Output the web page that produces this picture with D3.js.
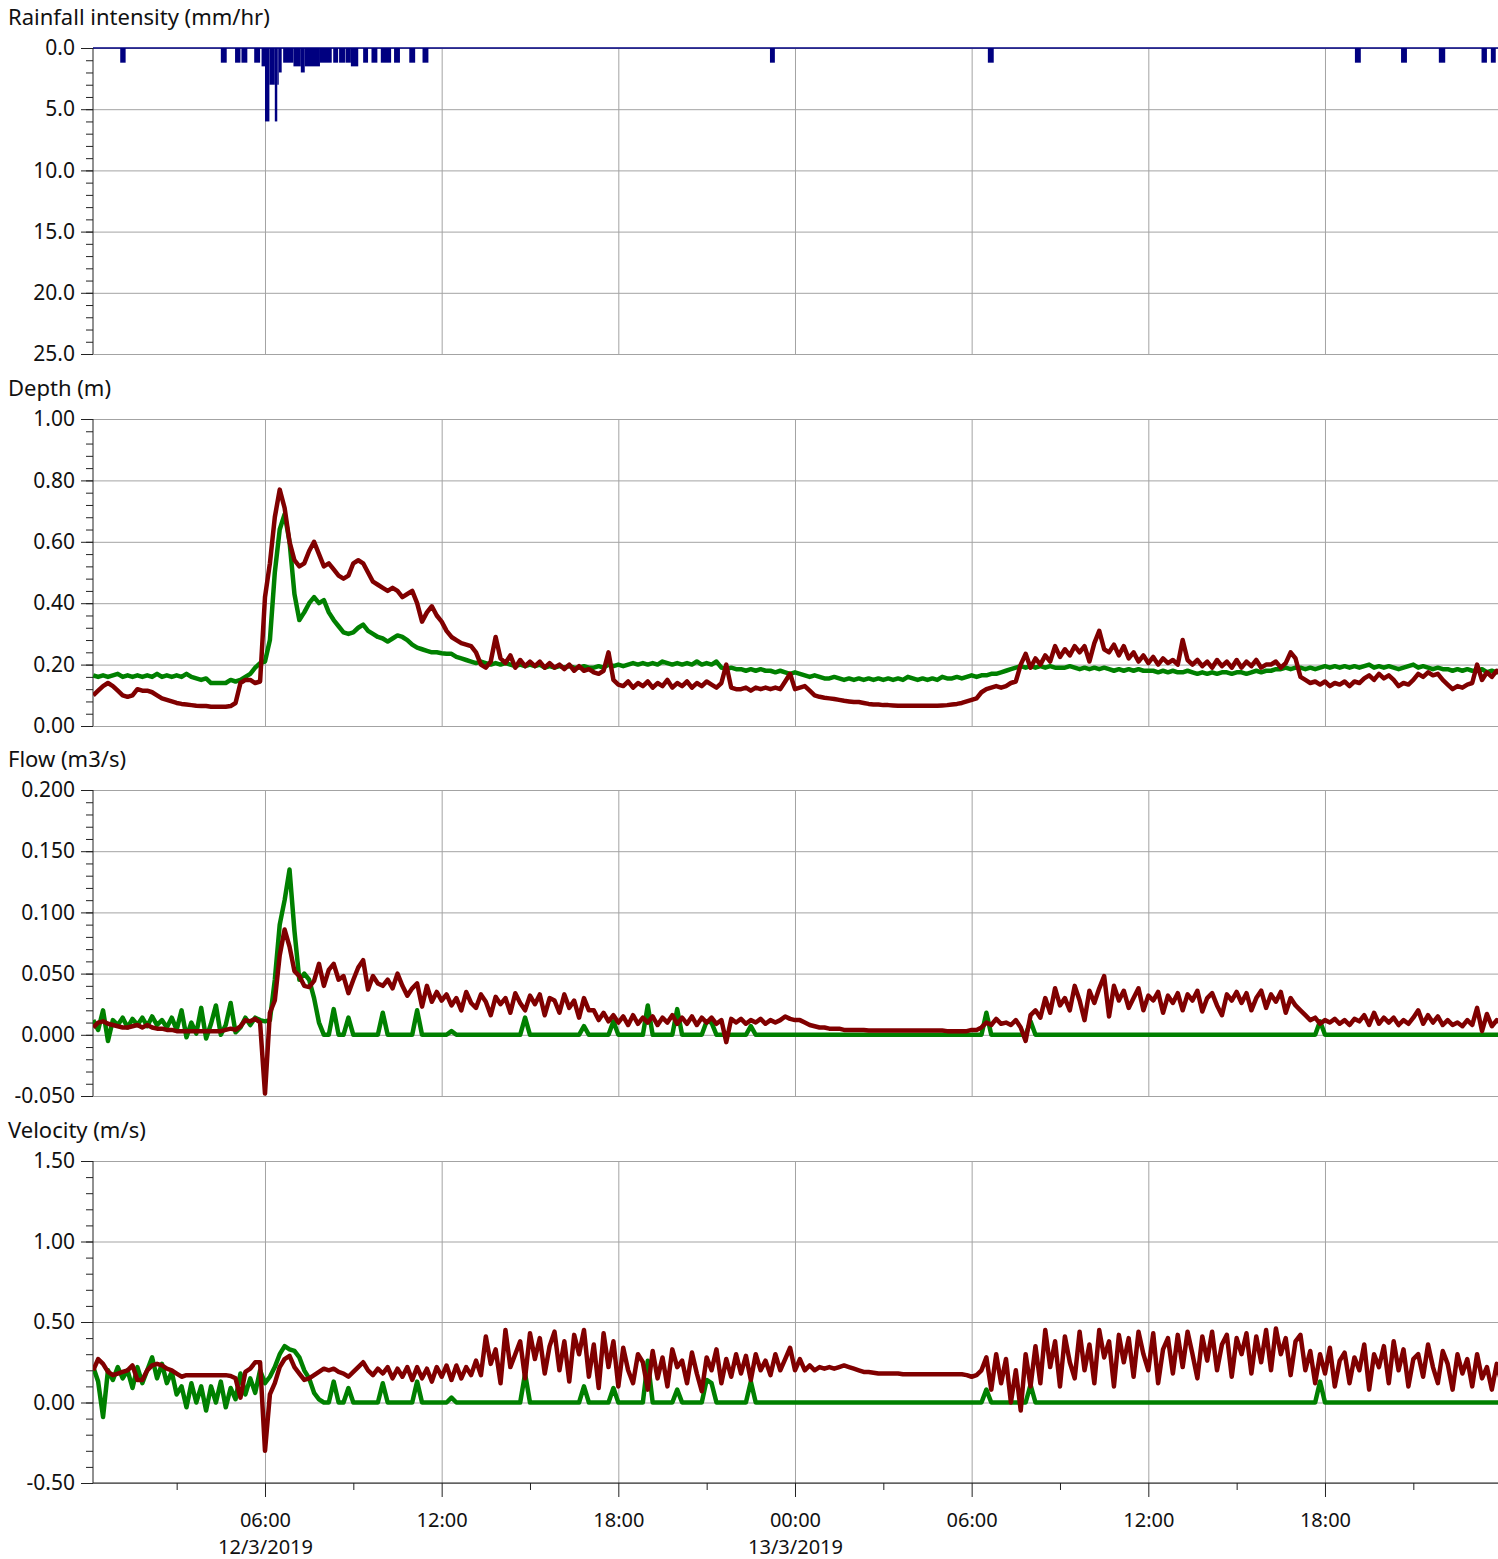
<!DOCTYPE html>
<html>
<head>
<meta charset="utf-8">
<script src="https://cdn.jsdelivr.net/npm/d3@7"></script>
<style>
  body { margin: 0; background: #fff; }
  svg text { font-family: "Noto Sans", "Open Sans", sans-serif; fill: #111; }
</style>
</head>
<body>
<div id="chart"></div>
<script>
/* DATA */
// rainfall bars: start, end, intensity (mm/hr)
const rainStart = ["2019-03-12 01:05","2019-03-12 04:30","2019-03-12 04:59","2019-03-12 05:12","2019-03-12 05:38",
  "2019-03-12 05:53","2019-03-12 06:00","2019-03-12 06:09","2019-03-12 06:20","2019-03-12 06:25","2019-03-12 06:28",
  "2019-03-12 06:37","2019-03-12 06:58","2019-03-12 07:13","2019-03-12 07:21","2019-03-12 07:52","2019-03-12 08:19",
  "2019-03-12 08:31","2019-03-12 08:44","2019-03-12 08:55","2019-03-12 09:20","2019-03-12 09:37","2019-03-12 09:56",
  "2019-03-12 10:23","2019-03-12 10:54","2019-03-12 11:21","2019-03-12 23:09","2019-03-13 06:33","2019-03-13 19:01",
  "2019-03-13 20:35","2019-03-13 21:52","2019-03-13 23:19","2019-03-13 23:38"];
const rainEnd = ["2019-03-12 01:16","2019-03-12 04:42","2019-03-12 05:10","2019-03-12 05:24","2019-03-12 05:50",
  "2019-03-12 06:00","2019-03-12 06:09","2019-03-12 06:20","2019-03-12 06:25","2019-03-12 06:28","2019-03-12 06:34",
  "2019-03-12 06:58","2019-03-12 07:13","2019-03-12 07:21","2019-03-12 07:52","2019-03-12 08:16","2019-03-12 08:29",
  "2019-03-12 08:43","2019-03-12 08:55","2019-03-12 09:10","2019-03-12 09:30","2019-03-12 09:49","2019-03-12 10:17",
  "2019-03-12 10:35","2019-03-12 11:06","2019-03-12 11:33","2019-03-12 23:19","2019-03-13 06:45","2019-03-13 19:13",
  "2019-03-13 20:47","2019-03-13 22:05","2019-03-13 23:30","2019-03-13 23:48"];
const rainRate = [1.2,1.2,1.2,1.2,1.2, 1.5,6.0,3.0,6.0,3.0,2.0, 1.2,1.5,2.0,1.5,1.2,1.2, 1.2,1.2,1.5,1.2,1.2,1.2,
  1.2,1.2,1.2,1.2,1.2,1.2, 1.2,1.2,1.2,1.2];

// monitor series, 10 minute samples from 12/3/2019 00:10 (one row = one hour)
const seriesStart = "2019-03-12 00:10";

const depthGreen = [
  0.165,0.16,0.165,0.16,0.165,0.17, 0.16,0.165,0.16,0.165,0.16,0.165, 0.16,0.17,0.16,0.165,0.16,0.165,
  0.16,0.17,0.16,0.155,0.15,0.155, 0.14,0.14,0.14,0.14,0.15,0.145, 0.15,0.16,0.17,0.19,0.205,0.21,
  0.28,0.50,0.64,0.69,0.60,0.43, 0.345,0.37,0.40,0.42,0.40,0.41, 0.37,0.345,0.325,0.305,0.30,0.305,
  0.32,0.33,0.31,0.30,0.29,0.285, 0.275,0.285,0.295,0.29,0.28,0.265, 0.255,0.25,0.245,0.24,0.24,0.237,
  0.235,0.235,0.225,0.22,0.215,0.21, 0.205,0.21,0.205,0.2,0.205,0.2, 0.205,0.2,0.195,0.2,0.195,0.2,
  0.195,0.2,0.19,0.195,0.19,0.195, 0.19,0.195,0.19,0.19,0.195,0.19, 0.19,0.195,0.19,0.2,0.195,0.2,
  0.195,0.2,0.205,0.2,0.205,0.2, 0.205,0.2,0.21,0.205,0.2,0.205, 0.2,0.205,0.2,0.21,0.2,0.205,
  0.2,0.21,0.19,0.185,0.19,0.185, 0.185,0.18,0.185,0.18,0.185,0.18, 0.18,0.175,0.18,0.175,0.17,0.175,
  0.17,0.165,0.16,0.165,0.16,0.155, 0.155,0.16,0.155,0.15,0.155,0.15, 0.155,0.15,0.155,0.15,0.155,0.15,
  0.155,0.15,0.155,0.15,0.16,0.155, 0.15,0.155,0.15,0.155,0.15,0.16, 0.155,0.155,0.16,0.155,0.16,0.165,
  0.16,0.165,0.165,0.17,0.17,0.175, 0.18,0.185,0.19,0.195,0.19,0.195, 0.19,0.195,0.19,0.195,0.19,0.19,
  0.19,0.195,0.19,0.185,0.19,0.185, 0.19,0.185,0.19,0.185,0.18,0.185, 0.18,0.185,0.18,0.185,0.18,0.18,
  0.18,0.175,0.18,0.175,0.18,0.175, 0.175,0.18,0.175,0.17,0.175,0.17, 0.175,0.17,0.175,0.175,0.17,0.175,
  0.175,0.17,0.175,0.18,0.175,0.18, 0.18,0.185,0.185,0.19,0.185,0.19, 0.19,0.185,0.19,0.185,0.19,0.195,
  0.19,0.195,0.19,0.195,0.19,0.195, 0.19,0.195,0.2,0.19,0.195,0.19, 0.195,0.19,0.185,0.19,0.195,0.2,
  0.19,0.195,0.19,0.185,0.19,0.185, 0.185,0.18,0.185,0.18,0.185,0.18, 0.18,0.185,0.175,0.18,0.175,0.18
];
const depthRed = [
  0.10,0.115,0.13,0.14,0.13,0.115, 0.10,0.095,0.10,0.12,0.115,0.115, 0.11,0.10,0.09,0.085,0.08,0.075,
  0.072,0.07,0.068,0.066,0.065,0.065, 0.063,0.063,0.063,0.063,0.065,0.075, 0.14,0.15,0.15,0.14,0.145,0.42,
  0.53,0.68,0.77,0.71,0.60,0.54, 0.52,0.53,0.57,0.60,0.56,0.52, 0.53,0.51,0.49,0.48,0.49,0.53,
  0.54,0.53,0.50,0.47,0.46,0.45, 0.44,0.45,0.44,0.42,0.43,0.44, 0.40,0.34,0.37,0.39,0.36,0.34,
  0.31,0.29,0.28,0.27,0.265,0.26, 0.24,0.20,0.19,0.21,0.29,0.22, 0.205,0.23,0.19,0.215,0.195,0.21,
  0.195,0.21,0.19,0.205,0.19,0.2, 0.185,0.2,0.18,0.195,0.18,0.185, 0.175,0.17,0.18,0.24,0.15,0.135,
  0.13,0.145,0.125,0.14,0.13,0.145, 0.125,0.14,0.13,0.15,0.125,0.14, 0.13,0.145,0.125,0.14,0.13,0.145,
  0.135,0.125,0.14,0.2,0.125,0.12, 0.12,0.125,0.115,0.125,0.12,0.125, 0.12,0.125,0.12,0.145,0.17,0.12,
  0.125,0.13,0.115,0.10,0.095,0.092, 0.09,0.088,0.085,0.082,0.08,0.078, 0.078,0.075,0.072,0.07,0.07,0.068,
  0.068,0.067,0.066,0.066,0.066,0.066, 0.066,0.066,0.066,0.066,0.066,0.067, 0.068,0.07,0.072,0.075,0.08,0.085,
  0.09,0.11,0.12,0.125,0.13,0.125, 0.13,0.14,0.145,0.2,0.235,0.19, 0.22,0.2,0.23,0.21,0.26,0.225,
  0.25,0.23,0.26,0.24,0.26,0.21, 0.27,0.31,0.25,0.24,0.265,0.23, 0.26,0.22,0.24,0.21,0.23,0.205,
  0.225,0.2,0.22,0.205,0.215,0.2, 0.28,0.215,0.2,0.215,0.195,0.21, 0.19,0.215,0.195,0.21,0.19,0.215,
  0.19,0.21,0.195,0.215,0.19,0.2, 0.2,0.21,0.19,0.205,0.24,0.22, 0.16,0.15,0.14,0.145,0.135,0.145,
  0.13,0.14,0.135,0.145,0.13,0.145, 0.14,0.155,0.165,0.15,0.17,0.155, 0.165,0.15,0.13,0.14,0.135,0.15,
  0.17,0.16,0.175,0.165,0.17,0.15, 0.135,0.12,0.13,0.125,0.135,0.14, 0.2,0.15,0.175,0.16,0.18,0.17
];
const flowGreen = [
  0.012,0.004,0.02,-0.005,0.012,0.008, 0.014,0.006,0.013,0.008,0.014,0.007, 0.015,0.008,0.012,0.006,0.014,0.004,
  0.02,-0.002,0.01,0.001,0.022,-0.003, 0.009,0.024,0.0,0.008,0.026,0.002, 0.006,0.014,0.008,0.014,0.012,0.011,
  0.012,0.045,0.09,0.11,0.135,0.085, 0.045,0.05,0.045,0.03,0.01,0, 0,0.021,0,0,0.014,0,
  0,0,0,0,0,0.018, 0,0,0,0,0,0, 0.02,0,0,0,0,0,
  0,0.003,0,0,0,0, 0,0,0,0,0,0, 0,0,0,0,0.014,0,
  0,0,0,0,0,0, 0,0,0,0,0.007,0, 0,0,0,0,0.011,0,
  0,0,0,0,0,0.024, 0,0,0,0,0,0.021, 0,0,0,0,0,0.011,
  0.01,0,0,0,0,0, 0,0,0.007,0,0,0, 0,0,0,0,0,0,
  0,0,0,0,0,0, 0,0,0,0,0,0, 0,0,0,0,0,0,
  0,0,0,0,0,0, 0,0,0,0,0,0, 0,0,0,0,0,0,
  0,0,0.018,0,0,0, 0,0,0,0,0,0.011, 0,0,0,0,0,0,
  0,0,0,0,0,0, 0,0,0,0,0,0, 0,0,0,0,0,0,
  0,0,0,0,0,0, 0,0,0,0,0,0, 0,0,0,0,0,0,
  0,0,0,0,0,0, 0,0,0,0,0,0, 0,0,0,0,0.011,0,
  0,0,0,0,0,0, 0,0,0,0,0,0, 0,0,0,0,0,0,
  0,0,0,0,0,0, 0,0,0,0,0,0, 0,0,0,0,0,0
];
const flowRed = [
  0.006,0.01,0.011,0.009,0.008,0.007, 0.006,0.006,0.007,0.008,0.006,0.008, 0.006,0.005,0.005,0.004,0.004,0.003,
  0.003,0.003,0.003,0.003,0.003,0.003, 0.003,0.003,0.003,0.004,0.005,0.004, 0.007,0.012,0.011,0.013,0.01,-0.048,
  0.018,0.028,0.065,0.086,0.072,0.052, 0.048,0.04,0.039,0.044,0.058,0.04, 0.053,0.058,0.045,0.048,0.034,0.045,
  0.055,0.061,0.037,0.048,0.042,0.04, 0.045,0.038,0.05,0.04,0.032,0.038, 0.042,0.023,0.04,0.027,0.035,0.028,
  0.033,0.024,0.03,0.02,0.035,0.026, 0.022,0.033,0.027,0.016,0.031,0.025, 0.03,0.018,0.034,0.026,0.02,0.032,
  0.025,0.033,0.016,0.03,0.028,0.018, 0.033,0.022,0.028,0.014,0.03,0.02, 0.02,0.012,0.018,0.011,0.016,0.01,
  0.015,0.008,0.016,0.009,0.014,0.01, 0.015,0.008,0.014,0.01,0.016,0.009, 0.014,0.009,0.015,0.008,0.014,0.01,
  0.014,0.009,0.012,-0.006,0.013,0.01, 0.013,0.009,0.012,0.01,0.013,0.009, 0.012,0.01,0.012,0.015,0.013,0.012,
  0.012,0.01,0.008,0.007,0.006,0.006, 0.005,0.005,0.005,0.004,0.004,0.004, 0.004,0.004,0.0035,0.0035,0.0035,0.0035,
  0.0035,0.0035,0.0035,0.0035,0.0035,0.0035, 0.0035,0.0035,0.0035,0.0035,0.0035,0.0035, 0.003,0.003,0.003,0.003,0.003,0.004,
  0.004,0.006,0.01,0.008,0.013,0.009, 0.01,0.008,0.012,0.006,-0.005,0.016, 0.02,0.014,0.03,0.018,0.038,0.024,
  0.03,0.02,0.04,0.028,0.012,0.036, 0.026,0.038,0.048,0.015,0.04,0.028, 0.036,0.022,0.03,0.038,0.02,0.032,
  0.028,0.035,0.018,0.032,0.026,0.034, 0.02,0.033,0.028,0.036,0.019,0.03, 0.034,0.024,0.016,0.033,0.028,0.035,
  0.026,0.034,0.02,0.03,0.036,0.022, 0.033,0.027,0.035,0.018,0.03,0.024, 0.02,0.016,0.012,0.014,0.009,0.012,
  0.01,0.013,0.009,0.012,0.008,0.013, 0.011,0.016,0.008,0.018,0.009,0.014, 0.01,0.014,0.008,0.012,0.009,0.014,
  0.02,0.009,0.016,0.01,0.015,0.008, 0.012,0.008,0.01,0.007,0.012,0.008, 0.022,0.003,0.017,0.007,0.012,0.009
];
const velGreen = [
  0.22,0.13,-0.09,0.2,0.14,0.22, 0.15,0.2,0.09,0.22,0.12,0.2, 0.28,0.15,0.24,0.12,0.19,0.05,
  0.1,-0.03,0.12,0.0,0.1,-0.05, 0.1,0.0,0.13,-0.03,0.09,0.02, 0.18,0.05,0.15,0.06,0.2,0.12,
  0.16,0.22,0.3,0.35,0.33,0.32, 0.28,0.2,0.15,0.06,0.02,0, 0,0.13,0,0,0.09,0,
  0,0,0,0,0,0.12, 0,0,0,0,0,0, 0.13,0,0,0,0,0,
  0,0.03,0,0,0,0, 0,0,0,0,0,0, 0,0,0,0,0.18,0,
  0,0,0,0,0,0, 0,0,0,0,0.1,0, 0,0,0,0,0.09,0,
  0,0,0,0,0,0.26, 0,0,0,0,0,0.08, 0,0,0,0,0,0.14,
  0.12,0,0,0,0,0, 0,0,0.13,0,0,0, 0,0,0,0,0,0,
  0,0,0,0,0,0, 0,0,0,0,0,0, 0,0,0,0,0,0,
  0,0,0,0,0,0, 0,0,0,0,0,0, 0,0,0,0,0,0,
  0,0,0.08,0,0,0, 0,0,0,0,0,0.11, 0,0,0,0,0,0,
  0,0,0,0,0,0, 0,0,0,0,0,0, 0,0,0,0,0,0,
  0,0,0,0,0,0, 0,0,0,0,0,0, 0,0,0,0,0,0,
  0,0,0,0,0,0, 0,0,0,0,0,0, 0,0,0,0,0.13,0,
  0,0,0,0,0,0, 0,0,0,0,0,0, 0,0,0,0,0,0,
  0,0,0,0,0,0, 0,0,0,0,0,0, 0,0,0,0,0,0
];
const velRed = [
  0.2,0.27,0.24,0.19,0.17,0.18, 0.19,0.2,0.23,0.14,0.14,0.2, 0.23,0.24,0.23,0.21,0.2,0.18,
  0.16,0.17,0.17,0.17,0.17,0.17, 0.17,0.17,0.17,0.17,0.165,0.15, 0.03,0.19,0.21,0.25,0.25,-0.3,
  0.05,0.12,0.22,0.27,0.29,0.22, 0.18,0.14,0.15,0.17,0.19,0.21, 0.2,0.21,0.19,0.18,0.16,0.19,
  0.22,0.25,0.2,0.17,0.21,0.18, 0.22,0.15,0.21,0.16,0.22,0.14, 0.22,0.15,0.21,0.13,0.22,0.16,
  0.23,0.14,0.23,0.15,0.22,0.17, 0.26,0.17,0.41,0.24,0.33,0.12, 0.45,0.22,0.3,0.38,0.15,0.43,
  0.27,0.4,0.18,0.35,0.44,0.2, 0.38,0.13,0.42,0.3,0.45,0.16, 0.36,0.09,0.43,0.22,0.38,0.1,
  0.34,0.2,0.12,0.3,0.25,0.08, 0.32,0.15,0.28,0.1,0.33,0.22, 0.26,0.12,0.31,0.18,0.07,0.28,
  0.2,0.33,0.12,0.27,0.16,0.3, 0.18,0.29,0.14,0.3,0.2,0.26, 0.17,0.3,0.2,0.27,0.34,0.2,
  0.27,0.2,0.23,0.2,0.22,0.21, 0.22,0.21,0.22,0.23,0.22,0.21, 0.2,0.19,0.19,0.185,0.18,0.18,
  0.18,0.18,0.18,0.175,0.175,0.175, 0.175,0.175,0.175,0.175,0.175,0.175, 0.175,0.175,0.175,0.175,0.17,0.16,
  0.17,0.2,0.28,0.08,0.3,0.12, 0.27,0.0,0.2,-0.05,0.3,0.1, 0.35,0.12,0.45,0.22,0.38,0.1,
  0.41,0.25,0.15,0.44,0.2,0.36, 0.12,0.45,0.28,0.38,0.1,0.42, 0.25,0.4,0.16,0.44,0.3,0.2,
  0.43,0.12,0.33,0.4,0.18,0.42, 0.22,0.44,0.3,0.15,0.41,0.26, 0.44,0.2,0.36,0.42,0.16,0.4,
  0.3,0.43,0.18,0.41,0.25,0.45, 0.2,0.46,0.3,0.4,0.17,0.38, 0.42,0.2,0.32,0.12,0.3,0.18,
  0.34,0.1,0.26,0.31,0.12,0.28, 0.2,0.36,0.08,0.3,0.22,0.35, 0.12,0.38,0.2,0.33,0.1,0.27,
  0.3,0.16,0.36,0.22,0.12,0.32, 0.24,0.08,0.3,0.18,0.27,0.1, 0.3,0.15,0.22,0.08,0.24,0.12
];

// axis ticks
const rainTicks = [0, 5, 10, 15, 20, 25];
const depthTicks = [0, 0.2, 0.4, 0.6, 0.8, 1.0];
const flowTicks = [-0.05, 0, 0.05, 0.1, 0.15, 0.2];
const velTicks = [-0.5, 0, 0.5, 1.0, 1.5];
const timeTicks = ["2019-03-12 06:00","2019-03-12 12:00","2019-03-12 18:00","2019-03-13 00:00",
  "2019-03-13 06:00","2019-03-13 12:00","2019-03-13 18:00"];
const timeMinorTicks = ["2019-03-12 03:00","2019-03-12 09:00","2019-03-12 15:00","2019-03-12 21:00",
  "2019-03-13 03:00","2019-03-13 09:00","2019-03-13 15:00","2019-03-13 21:00"];
const dateLabelTicks = ["2019-03-12 06:00","2019-03-13 00:00"];

/* LAYOUT */
const width = 1498, height = 1559;
const left = 93, right = 1498;
const green = "#008000", red = "#800000", navy = "#000080", gridColor = "#a3a3a3";

const parse = d3.timeParse("%Y-%m-%d %H:%M");
const t0 = parse(seriesStart);
const times = depthGreen.map((d, i) => d3.timeMinute.offset(t0, i * 10));

const xScale = d3.scaleTime()
  .domain([new Date(2019, 2, 12, 0, 9, 31), new Date(2019, 2, 13, 23, 52, 34)])
  .range([left, right]);

const fmtMinus = f => v => d3.format(f)(v).replace("\u2212", "-");

const panels = [
  { title: "Rainfall intensity (mm/hr)", top: 48, bottom: 354, domain: [0, 25], ticks: rainTicks, minor: 1, fmt: fmtMinus(".1f"), invert: true },
  { title: "Depth (m)", top: 419, bottom: 726, domain: [0, 1], ticks: depthTicks, minor: 0.04, fmt: fmtMinus(".2f") },
  { title: "Flow (m3/s)", top: 790, bottom: 1096, domain: [-0.05, 0.2], ticks: flowTicks, minor: 0.01, fmt: fmtMinus(".3f") },
  { title: "Velocity (m/s)", top: 1161, bottom: 1483, domain: [-0.5, 1.5], ticks: velTicks, minor: 0.1, fmt: fmtMinus(".2f") }
];

const svg = d3.select("#chart").append("svg")
  .attr("width", width)
  .attr("height", height);

svg.append("defs").append("clipPath").attr("id", "plotclip")
  .append("rect").attr("x", left).attr("y", 0).attr("width", right - left).attr("height", height);

panels.forEach(p => {
  p.y = d3.scaleLinear()
    .domain(p.domain)
    .range(p.invert ? [p.top, p.bottom] : [p.bottom, p.top]);

  const g = svg.append("g").attr("class", "panel");

  // horizontal grid
  g.append("g")
    .attr("transform", `translate(${left},0)`)
    .call(d3.axisLeft(p.y).tickValues(p.ticks).tickSize(-(right - left)).tickFormat(""))
    .call(a => a.select(".domain").remove())
    .call(a => a.selectAll("line").attr("stroke", gridColor));

  // vertical grid
  g.append("g")
    .attr("transform", `translate(0,${p.bottom})`)
    .call(d3.axisBottom(xScale).tickValues(timeTicks.map(parse)).tickSize(-(p.bottom - p.top)).tickFormat(""))
    .call(a => a.select(".domain").remove())
    .call(a => a.selectAll("line").attr("stroke", gridColor));

  // minor y ticks
  const lo = p.domain[0], hi = p.domain[1];
  const minorVals = d3.range(Math.round((hi - lo) / p.minor) + 1).map(i => lo + i * p.minor);
  g.append("g")
    .attr("transform", `translate(${left},0)`)
    .call(d3.axisLeft(p.y).tickValues(minorVals).tickSize(7).tickFormat(""))
    .call(a => a.select(".domain").remove())
    .call(a => a.selectAll("line").attr("stroke", "#222"));

  // major y ticks + labels
  g.append("g")
    .attr("transform", `translate(${left},0)`)
    .call(d3.axisLeft(p.y).tickValues(p.ticks).tickSize(12).tickPadding(6).tickFormat(p.fmt))
    .call(a => a.select(".domain").remove())
    .call(a => a.selectAll("line").attr("stroke", "#222"))
    .call(a => a.selectAll("text").attr("font-size", 21).attr("font-family", null));

  // y axis line
  g.append("line")
    .attr("x1", left).attr("x2", left)
    .attr("y1", p.top).attr("y2", p.bottom)
    .attr("stroke", "#222");

  // title
  g.append("text")
    .attr("x", 8)
    .attr("y", p.top - 23)
    .attr("font-size", 22)
    .text(p.title);
});

/* MARKS */
const [rainP, depthP, flowP, velP] = panels;

// rainfall bars hang down from zero
const rain = rainRate.map((v, i) => ({ start: parse(rainStart[i]), end: parse(rainEnd[i]), rate: v }));
svg.append("g").attr("clip-path", "url(#plotclip)")
  .selectAll("rect")
  .data(rain)
  .join("rect")
  .attr("x", d => xScale(d.start))
  .attr("width", d => xScale(d.end) - xScale(d.start))
  .attr("y", rainP.y(0))
  .attr("height", d => rainP.y(d.rate) - rainP.y(0))
  .attr("fill", navy);

svg.append("line")
  .attr("x1", left).attr("x2", right)
  .attr("y1", rainP.y(0)).attr("y2", rainP.y(0))
  .attr("stroke", navy).attr("stroke-width", 1.5);

function drawLine(panel, values, color) {
  const lineGen = d3.line()
    .x((d, i) => xScale(times[i]))
    .y(d => panel.y(d));
  svg.append("path")
    .datum(values)
    .attr("clip-path", "url(#plotclip)")
    .attr("fill", "none")
    .attr("stroke", color)
    .attr("stroke-width", 4.5)
    .attr("stroke-linejoin", "round")
    .attr("d", lineGen);
}

drawLine(depthP, depthGreen, green);
drawLine(depthP, depthRed, red);
drawLine(flowP, flowGreen, green);
drawLine(flowP, flowRed, red);
drawLine(velP, velGreen, green);
drawLine(velP, velRed, red);

/* X AXIS */
const xAxisG = svg.append("g").attr("transform", `translate(0,${velP.bottom})`);
xAxisG.append("g")
  .call(d3.axisBottom(xScale).tickValues(timeMinorTicks.map(parse)).tickSize(7).tickFormat(""))
  .call(a => a.select(".domain").remove())
  .call(a => a.selectAll("line").attr("stroke", "#222"));
xAxisG.append("g")
  .call(d3.axisBottom(xScale).tickValues(timeTicks.map(parse)).tickSize(14).tickPadding(16)
    .tickFormat(d3.timeFormat("%H:%M")))
  .call(a => a.select(".domain").remove())
  .call(a => a.selectAll("line").attr("stroke", "#222"))
  .call(a => a.selectAll("text").attr("font-size", 20).attr("font-family", null));
xAxisG.append("g")
  .call(d3.axisBottom(xScale).tickValues(dateLabelTicks.map(parse)).tickSize(0).tickPadding(57)
    .tickFormat(d3.timeFormat("%-d/%-m/%Y")))
  .call(a => a.select(".domain").remove())
  .call(a => a.selectAll("text").attr("font-size", 20).attr("font-family", null));
xAxisG.append("line")
  .attr("x1", left).attr("x2", right)
  .attr("y1", 0).attr("y2", 0)
  .attr("stroke", "#222");
</script>
</body>
</html>
